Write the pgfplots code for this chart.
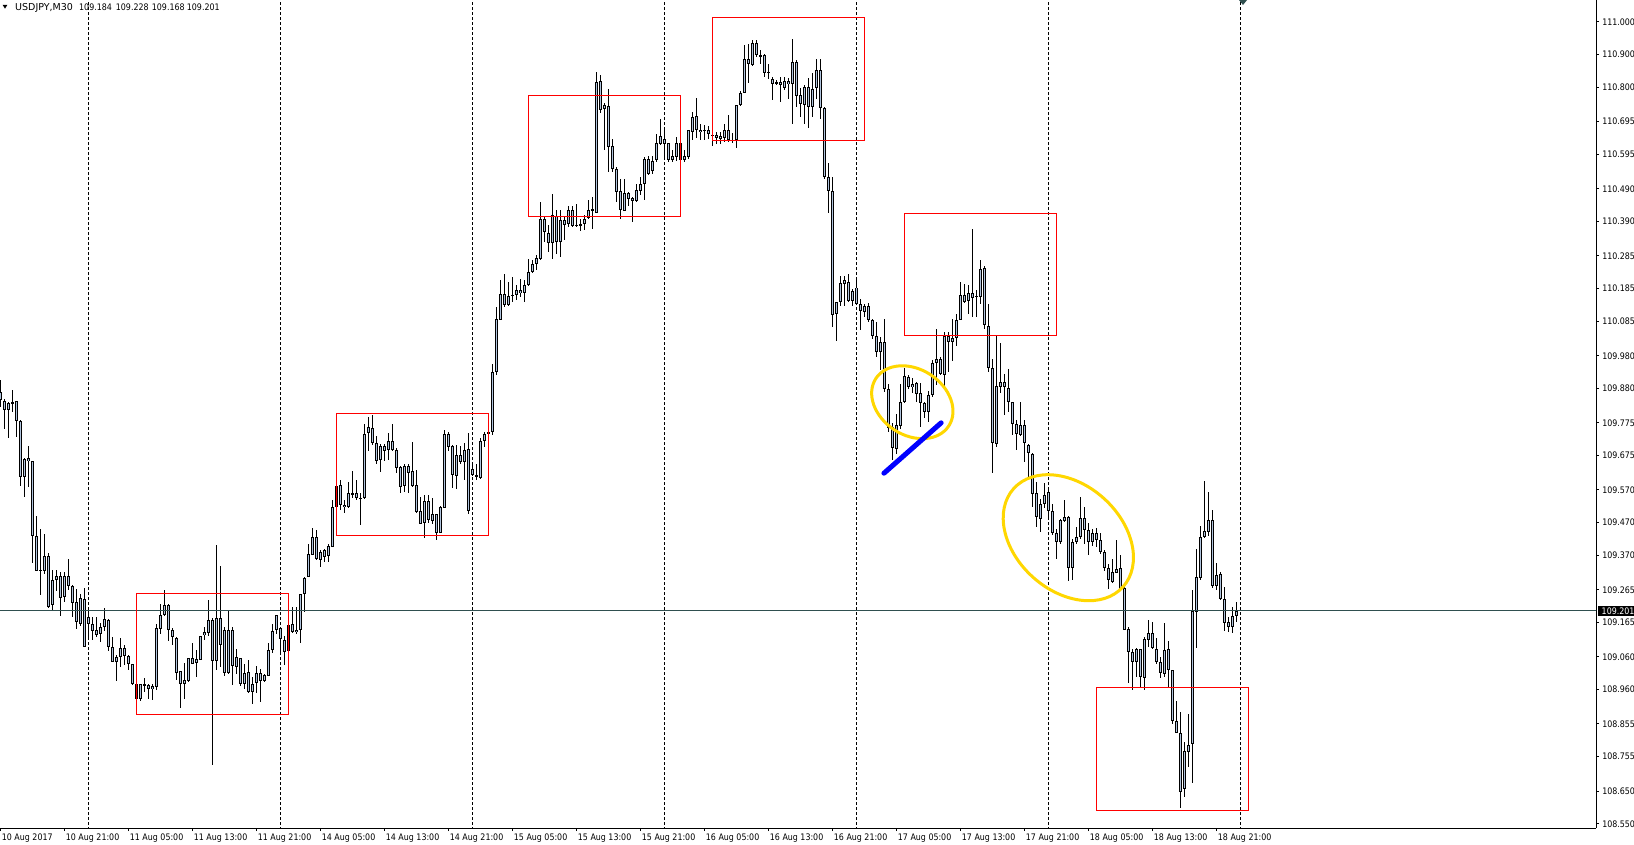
\documentclass[border=0pt]{standalone}
\usepackage{fontspec}
\setmainfont{DejaVu Sans}[FakeStretch=0.88]
\newfontfamily\titlefont{DejaVu Sans}[FakeStretch=1.0]
\usepackage{pgfplots}
\usepackage{pgfplotstable}
\pgfplotsset{compat=1.18}
\usetikzlibrary{shapes.geometric}

\definecolor{candlefill}{HTML}{B0C4DE}
\definecolor{bidline}{HTML}{2F4F4F}
\definecolor{boxred}{HTML}{FF0000}
\definecolor{ellyellow}{HTML}{FFD700}
\definecolor{lineblue}{HTML}{0000FF}

% USDJPY M30, bar index from 10 Aug 13:00; body top/bottom, high, low
\pgfplotstableread{
i bt bb hi lo
0 109.872 109.845 109.906 109.824
1 109.843 109.814 109.847 109.758
2 109.835 109.814 109.840 109.728
3 109.841 109.835 109.875 109.809
4 109.841 109.782 109.841 109.733
5 109.781 109.611 109.784 109.585
6 109.664 109.611 109.667 109.547
7 109.667 109.658 109.704 109.580
8 109.658 109.431 109.658 109.346
9 109.431 109.324 109.490 109.324
10 109.327 109.324 109.452 109.252
11 109.370 109.324 109.437 109.315
12 109.370 109.213 109.378 109.211
13 109.295 109.217 109.325 109.203
14 109.309 109.297 109.327 109.264
15 109.309 109.242 109.320 109.186
16 109.307 109.242 109.320 109.227
17 109.307 109.277 109.361 109.264
18 109.277 109.227 109.280 109.181
19 109.227 109.166 109.269 109.145
20 109.239 109.162 109.254 109.157
21 109.239 109.091 109.269 109.091
22 109.181 109.160 109.203 109.122
23 109.160 109.140 109.183 109.112
24 109.142 109.128 109.183 109.122
25 109.152 109.130 109.162 109.106
26 109.175 109.152 109.211 109.142
27 109.175 109.091 109.175 109.078
28 109.091 109.045 109.122 109.045
29 109.059 109.045 109.066 108.987
30 109.087 109.059 109.117 109.030
31 109.087 109.063 109.096 109.035
32 109.063 109.038 109.066 109.020
33 109.038 108.977 109.038 108.974
34 108.977 108.933 108.981 108.903
35 108.977 108.932 108.979 108.928
36 108.977 108.973 108.994 108.954
37 108.977 108.964 108.979 108.933
38 108.971 108.964 108.979 108.930
39 109.147 108.969 109.160 108.959
40 109.188 109.147 109.224 109.132
41 109.218 109.188 109.266 109.185
42 109.218 109.142 109.224 109.110
43 109.142 109.120 109.150 109.096
44 109.120 109.012 109.122 108.991
45 109.016 108.979 109.016 108.906
46 108.991 108.979 109.044 108.933
47 109.056 108.987 109.057 108.984
48 109.056 109.040 109.103 109.040
49 109.053 109.042 109.081 109.000
50 109.126 109.053 109.126 109.050
51 109.136 109.126 109.152 109.112
52 109.173 109.134 109.234 109.124
53 109.173 109.048 109.178 108.730
54 109.179 109.048 109.402 109.020
55 109.181 109.097 109.338 109.028
56 109.142 109.012 109.152 109.000
57 109.142 109.010 109.205 109.008
58 109.144 109.032 109.152 108.974
59 109.059 109.030 109.086 109.010
60 109.056 108.977 109.056 108.972
61 109.013 108.977 109.040 108.961
62 109.013 108.954 109.053 108.952
63 108.979 108.954 109.000 108.915
64 109.010 108.981 109.032 108.949
65 109.010 108.987 109.022 108.923
66 109.004 108.987 109.008 108.984
67 109.083 109.004 109.101 109.002
68 109.142 109.083 109.162 109.073
69 109.187 109.142 109.187 109.132
70 109.148 109.114 109.152 109.066
71 109.114 109.077 109.124 109.035
72 109.158 109.079 109.213 109.076
73 109.160 109.137 109.213 109.132
74 109.144 109.137 109.213 109.130
75 109.254 109.144 109.254 109.103
76 109.303 109.254 109.303 109.198
77 109.374 109.303 109.405 109.303
78 109.427 109.371 109.454 109.371
79 109.427 109.358 109.450 109.356
80 109.381 109.356 109.389 109.336
81 109.387 109.366 109.392 109.351
82 109.400 109.369 109.405 109.351
83 109.519 109.397 109.539 109.395
84 109.584 109.519 109.636 109.499
85 109.587 109.524 109.602 109.511
86 109.526 109.517 109.539 109.499
87 109.560 109.517 109.595 109.514
88 109.560 109.555 109.628 109.544
89 109.560 109.544 109.602 109.539
90 109.546 109.544 109.560 109.463
91 109.740 109.544 109.772 109.544
92 109.761 109.743 109.794 109.690
93 109.761 109.714 109.799 109.707
94 109.714 109.660 109.735 109.651
95 109.704 109.660 109.712 109.626
96 109.704 109.690 109.712 109.660
97 109.722 109.693 109.743 109.660
98 109.722 109.693 109.774 109.690
99 109.694 109.638 109.700 109.621
100 109.640 109.580 109.643 109.562
101 109.643 109.580 109.651 109.565
102 109.643 109.623 109.651 109.562
103 109.628 109.585 109.716 109.580
104 109.587 109.504 109.631 109.499
105 109.506 109.468 109.550 109.468
106 109.536 109.468 109.555 109.424
107 109.536 109.478 109.555 109.470
108 109.497 109.478 109.547 109.468
109 109.497 109.440 109.499 109.417
110 109.519 109.440 109.521 109.437
111 109.743 109.516 109.755 109.516
112 109.741 109.702 109.748 109.690
113 109.704 109.615 109.710 109.577
114 109.677 109.615 109.707 109.575
115 109.677 109.655 109.704 109.651
116 109.692 109.655 109.712 109.600
117 109.695 109.504 109.743 109.496
118 109.633 109.615 109.656 109.613
119 109.616 109.613 109.651 109.600
120 109.719 109.608 109.728 109.602
121 109.743 109.719 109.747 109.702
122 109.749 109.740 109.753 109.702
123 109.931 109.748 109.955 109.738
124 110.094 109.931 110.130 109.921
125 110.168 110.091 110.212 110.091
126 110.168 110.137 110.232 110.132
127 110.164 110.137 110.206 110.132
128 110.168 110.164 110.222 110.145
129 110.181 110.168 110.196 110.150
130 110.181 110.174 110.214 110.161
131 110.198 110.174 110.212 110.145
132 110.238 110.198 110.275 110.194
133 110.260 110.238 110.273 110.232
134 110.279 110.260 110.288 110.242
135 110.397 110.276 110.451 110.273
136 110.397 110.359 110.409 110.329
137 110.357 110.324 110.380 110.298
138 110.409 110.326 110.474 110.276
139 110.409 110.329 110.427 110.293
140 110.397 110.329 110.425 110.283
141 110.397 110.382 110.405 110.334
142 110.425 110.382 110.436 110.374
143 110.425 110.376 110.436 110.374
144 110.381 110.378 110.444 110.374
145 110.383 110.378 110.400 110.362
146 110.400 110.382 110.412 110.364
147 110.427 110.400 110.456 110.397
148 110.428 110.423 110.468 110.369
149 110.816 110.417 110.847 110.415
150 110.819 110.731 110.839 110.723
151 110.746 110.736 110.754 110.609
152 110.746 110.619 110.795 110.542
153 110.621 110.550 110.642 110.542
154 110.550 110.481 110.558 110.451
155 110.483 110.425 110.520 110.398
156 110.479 110.425 110.522 110.423
157 110.479 110.461 110.481 110.439
158 110.464 110.454 110.466 110.390
159 110.486 110.454 110.507 110.451
160 110.505 110.484 110.527 110.471
161 110.581 110.505 110.588 110.458
162 110.581 110.537 110.590 110.532
163 110.575 110.545 110.590 110.535
164 110.629 110.578 110.658 110.573
165 110.653 110.629 110.702 110.624
166 110.644 110.629 110.680 110.578
167 110.629 110.578 110.631 110.573
168 110.590 110.578 110.609 110.573
169 110.629 110.588 110.649 110.578
170 110.629 110.578 110.631 110.573
171 110.590 110.578 110.609 110.573
172 110.670 110.588 110.672 110.583
173 110.710 110.665 110.724 110.639
174 110.713 110.670 110.770 110.647
175 110.672 110.665 110.688 110.639
176 110.672 110.668 110.687 110.641
177 110.670 110.658 110.683 110.644
178 110.656 110.654 110.665 110.621
179 110.656 110.646 110.665 110.629
180 110.653 110.644 110.665 110.629
181 110.670 110.644 110.690 110.634
182 110.670 110.639 110.716 110.634
183 110.641 110.637 110.660 110.629
184 110.746 110.641 110.746 110.614
185 110.782 110.746 110.789 110.743
186 110.886 110.782 110.929 110.782
187 110.886 110.870 110.932 110.812
188 110.935 110.870 110.945 110.868
189 110.935 110.899 110.945 110.892
190 110.899 110.896 110.914 110.873
191 110.899 110.845 110.902 110.833
192 110.848 110.845 110.871 110.825
193 110.825 110.812 110.833 110.761
194 110.817 110.812 110.825 110.807
195 110.817 110.810 110.833 110.756
196 110.820 110.797 110.833 110.794
197 110.820 110.810 110.831 110.766
198 110.879 110.810 110.950 110.688
199 110.879 110.775 110.884 110.741
200 110.777 110.749 110.797 110.710
201 110.802 110.749 110.807 110.690
202 110.802 110.741 110.828 110.675
203 110.797 110.741 110.845 110.710
204 110.853 110.799 110.889 110.766
205 110.853 110.736 110.889 110.705
206 110.739 110.527 110.739 110.520
207 110.527 110.484 110.568 110.417
208 110.486 110.107 110.527 110.069
209 110.145 110.107 110.145 110.026
210 110.201 110.145 110.226 110.132
211 110.211 110.201 110.226 110.132
212 110.206 110.148 110.230 110.145
213 110.177 110.148 110.186 110.132
214 110.189 110.140 110.211 110.135
215 110.138 110.118 110.155 110.061
216 110.133 110.115 110.140 110.099
217 110.132 110.091 110.140 110.084
218 110.091 110.042 110.094 110.033
219 110.042 109.993 110.084 109.977
220 110.022 109.993 110.038 109.937
221 110.021 109.877 110.094 109.870
222 109.877 109.758 109.896 109.748
223 109.763 109.700 109.774 109.662
224 109.769 109.697 109.804 109.680
225 109.840 109.766 109.894 109.758
226 109.919 109.840 109.942 109.835
227 109.916 109.884 109.921 109.880
228 109.896 109.884 109.911 109.865
229 109.896 109.865 109.901 109.840
230 109.867 109.837 109.899 109.763
231 109.837 109.809 109.840 109.789
232 109.860 109.809 109.873 109.779
233 109.960 109.860 109.967 109.855
234 109.969 109.959 110.064 109.891
235 109.969 109.923 109.977 109.921
236 110.040 109.923 110.054 109.886
237 110.040 110.022 110.054 109.931
238 110.036 110.023 110.094 109.965
239 110.091 110.036 110.110 110.010
240 110.166 110.091 110.206 110.089
241 110.166 110.145 110.199 110.142
242 110.171 110.148 110.199 110.110
243 110.174 110.159 110.369 110.099
244 110.163 110.159 110.181 110.099
245 110.247 110.159 110.273 110.140
246 110.247 110.072 110.254 110.064
247 110.072 109.942 110.140 109.931
248 109.942 109.712 109.972 109.621
249 109.888 109.712 110.040 109.702
250 109.901 109.886 110.020 109.867
251 109.901 109.884 109.926 109.799
252 109.881 109.840 109.939 109.809
253 109.840 109.771 109.840 109.738
254 109.771 109.740 109.784 109.692
255 109.768 109.740 109.840 109.735
256 109.768 109.712 109.784 109.656
257 109.709 109.682 109.712 109.611
258 109.682 109.560 109.682 109.519
259 109.560 109.486 109.595 109.458
260 109.529 109.483 109.544 109.443
261 109.555 109.529 109.590 109.514
262 109.563 109.506 109.570 109.488
263 109.506 109.438 109.529 109.432
264 109.440 109.412 109.453 109.361
265 109.478 109.412 109.483 109.407
266 109.488 109.476 109.539 109.473
267 109.490 109.333 109.490 109.292
268 109.412 109.333 109.422 109.295
269 109.427 109.410 109.458 109.407
270 109.486 109.427 109.550 109.422
271 109.486 109.450 109.519 109.407
272 109.450 109.412 109.468 109.373
273 109.438 109.412 109.450 109.399
274 109.438 109.417 109.453 109.395
275 109.417 109.381 109.440 109.376
276 109.381 109.331 109.387 109.323
277 109.331 109.295 109.346 109.269
278 109.320 109.290 109.358 109.287
279 109.331 109.318 109.417 109.315
280 109.331 109.269 109.371 109.266
281 109.273 109.144 109.280 109.142
282 109.147 109.076 109.152 108.981
283 109.076 109.045 109.083 108.959
284 109.086 109.045 109.089 109.000
285 109.083 108.997 109.086 108.969
286 109.114 108.997 109.120 108.959
287 109.132 109.112 109.173 109.091
288 109.132 109.089 109.168 109.083
289 109.086 109.045 109.117 109.038
290 109.045 109.010 109.061 108.995
291 109.083 109.010 109.163 108.998
292 109.083 109.020 109.107 108.969
293 109.020 108.865 109.020 108.857
294 108.865 108.826 108.926 108.826
295 108.828 108.648 108.893 108.600
296 108.772 108.658 108.801 108.631
297 108.793 108.772 108.886 108.724
298 109.201 108.793 109.264 108.676
299 109.303 109.198 109.392 109.089
300 109.427 109.303 109.458 109.295
301 109.445 109.427 109.598 109.422
302 109.480 109.443 109.565 109.432
303 109.480 109.277 109.509 109.269
304 109.312 109.277 109.348 109.264
305 109.315 109.239 109.320 109.236
306 109.239 109.165 109.272 109.140
307 109.166 109.152 109.183 109.137
308 109.185 109.152 109.213 109.132
309 109.201 109.184 109.228 109.168
}\candles

\begin{document}
\begin{tikzpicture}
\fill[white] (0pt,0pt) rectangle (1634pt,-845pt);
\begin{axis}[
  at={(0pt,0pt)}, anchor=north west,
  scale only axis, width=1596pt, height=828pt,
  xmin=-0.175, xmax=398.825,
  ymin=108.5371, ymax=111.0669,
  axis x line*=bottom, axis y line*=right,
  axis line style={black, line width=1pt},
  tick style={black, line width=1pt},
  tick align=outside, major tick length=3pt,
  xtick={0,16,...,304},
  xticklabels={10 Aug 2017, 10 Aug 21:00, 11 Aug 05:00, 11 Aug 13:00, 11 Aug 21:00,
    14 Aug 05:00, 14 Aug 13:00, 14 Aug 21:00, 15 Aug 05:00, 15 Aug 13:00,
    15 Aug 21:00, 16 Aug 05:00, 16 Aug 13:00, 16 Aug 21:00, 17 Aug 05:00,
    17 Aug 13:00, 17 Aug 21:00, 18 Aug 05:00, 18 Aug 13:00, 18 Aug 21:00},
  ytick={111.000,110.900,110.800,110.695,110.595,110.490,110.390,110.285,110.185,
    110.085,109.980,109.880,109.775,109.675,109.570,109.470,109.370,109.265,
    109.165,109.060,108.960,108.855,108.755,108.650,108.550},
  scaled y ticks=false,
  ticklabel style={font=\fontsize{9}{10}\selectfont, text=black},
  xticklabel style={anchor=north west, inner sep=0pt, xshift=1pt},
  xticklabel shift=3pt,
  yticklabel style={anchor=west, inner sep=0pt},
  yticklabel shift=3pt,
  /pgf/number format/fixed,
  /pgf/number format/fixed zerofill,
  /pgf/number format/precision=3,
  /pgf/number format/assume math mode=true,
]
% period separators (midnight)
\pgfplotsinvokeforeach{22,70,118,166,214,262,310}{
  \addplot[forget plot, black, line width=1pt, dash pattern=on 3pt off 2pt]
    coordinates {(#1,108.5) (#1,111.1)};
}
% wicks
\addplot[draw=none, mark=none, forget plot,
  error bars/.cd, y dir=both, y explicit, error mark=none,
  error bar style={draw=black, line width=1pt}]
  table[x=i, y expr=(\thisrow{hi}+\thisrow{lo})/2,
        y error expr=(\thisrow{hi}-\thisrow{lo})/2] {\candles};
% body outlines
\addplot[draw=none, mark=none, forget plot,
  error bars/.cd, y dir=both, y explicit, error mark=none,
  error bar style={draw=black, line width=3pt}]
  table[x=i, y expr=(\thisrow{bt}+\thisrow{bb})/2,
        y error expr=(\thisrow{bt}-\thisrow{bb})/2] {\candles};
% body fill
\addplot[draw=none, mark=none, forget plot,
  error bars/.cd, y dir=both, y explicit, error mark=none,
  error bar style={draw=candlefill, line width=1pt}]
  table[x=i, y expr=(\thisrow{bt}+\thisrow{bb})/2,
        y error expr={max((\thisrow{bt}-\thisrow{bb})/2-0.00306,0)}] {\candles};
% bid line
\addplot[forget plot, bidline, line width=1pt] coordinates {(-1,109.201) (400,109.201)};
% drawn objects
\draw[boxred, line width=1pt] (axis cs:33.83,109.2542) rectangle (axis cs:71.9,108.8824);
\draw[boxred, line width=1pt] (axis cs:83.9,109.8041) rectangle (axis cs:121.9,109.4314);
\draw[boxred, line width=1pt] (axis cs:131.9,110.7766) rectangle (axis cs:170.0,110.4039);
\draw[boxred, line width=1pt] (axis cs:177.9,111.0128) rectangle (axis cs:215.9,110.6361);
\draw[boxred, line width=1pt] (axis cs:225.9,110.4152) rectangle (axis cs:263.9,110.0425);
\draw[boxred, line width=1pt] (axis cs:273.9,108.9658) rectangle (axis cs:311.9,108.5921);
\node[draw=ellyellow, line width=3pt, ellipse, inner sep=0pt, outer sep=0pt,
  minimum width=87pt, minimum height=66pt, rotate=-33] at (axis cs:227.9,109.838) {};
\node[draw=ellyellow, line width=3pt, ellipse, inner sep=0pt, outer sep=0pt,
  minimum width=147pt, minimum height=106pt, rotate=-42] at (axis cs:266.9,109.424) {};
\addplot[forget plot, lineblue, line width=5pt, line cap=round]
  coordinates {(220.8,109.621) (235.1,109.775)};
\end{axis}
% header
\fill[black] (2.7pt,-5pt) -- (7.3pt,-5pt) -- (5pt,-8.7pt) -- cycle;
\node[inner sep=0pt, anchor=base west, font=\titlefont\fontsize{9.5}{10}\selectfont]
  at (15pt,-10.3pt) {USDJPY,M30};
\begin{scope}[every node/.style={inner sep=0pt, anchor=base west, font=\fontsize{9}{10}\selectfont}]
\node at (79pt,-10.3pt) {109.184};
\node at (115.7pt,-10.3pt) {109.228};
\node at (151.7pt,-10.3pt) {109.168};
\node at (186.7pt,-10.3pt) {109.201};
\end{scope}
% chart shift marker
\fill[bidline] (1239pt,0pt) -- (1247pt,0pt) -- (1243pt,-5pt) -- cycle;
% bid price label
\fill[black] (1598.3pt,-606pt) rectangle (1634pt,-616.3pt);
\node[inner sep=0pt, anchor=base west, text=white, font=\fontsize{9}{10}\selectfont] at (1601.5pt,-614.6pt) {109.201};
\pgfresetboundingbox
\useasboundingbox (0pt,0pt) rectangle (1634pt,-845pt);
\end{tikzpicture}
\end{document}
